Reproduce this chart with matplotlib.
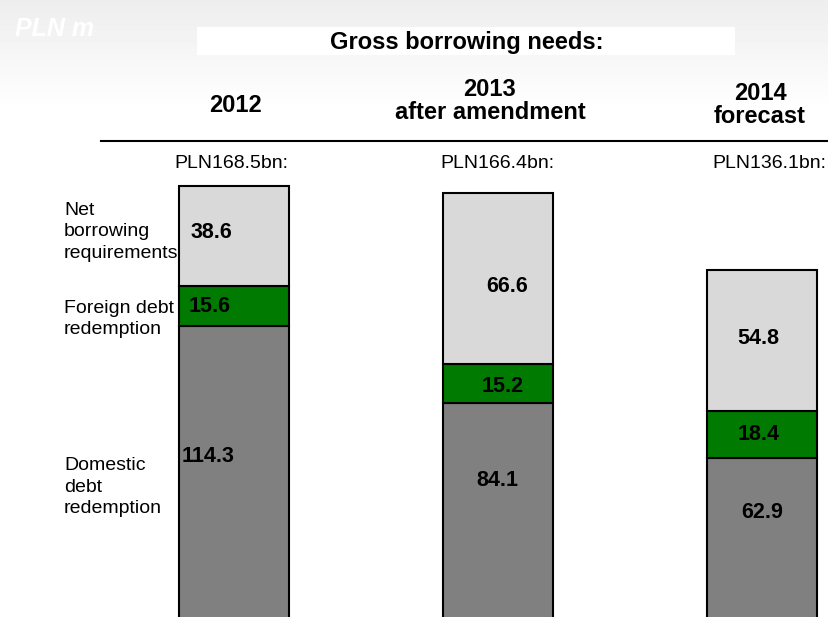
import numpy as np
import matplotlib.pyplot as plt
from matplotlib.patches import Rectangle

plt.rcParams['font.family'] = ['Liberation Sans', 'DejaVu Sans']

# data (PLN bn)
years = ['2012', '2013\nafter amendment', '2014\nforecast']
totals = ['PLN168.5bn:', 'PLN166.4bn:', 'PLN136.1bn:']
domestic = [114.3, 84.1, 62.9]
foreign = [15.6, 15.2, 18.4]
net = [38.6, 66.6, 54.8]
series_names = ['Domestic\ndebt\nredemption', 'Foreign debt\nredemption',
                'Net\nborrowing\nrequirements']

W, H = 829, 617
fig = plt.figure(figsize=(W / 100, H / 100), dpi=100)


# pixel -> figure fraction
def fx(px):
    return px / W


def fy(py):
    return 1 - py / H


# background gradient (slide header)
bg = fig.add_axes([0, 0, 1, 1], zorder=0)
rows = np.arange(H)
grad = np.repeat(np.clip(0.93 + 0.07 * rows / 110, 0, 1)[:, None], 2, axis=1)
bg.imshow(grad, cmap='gray', vmin=0, vmax=1, aspect='auto', extent=[0, 1, 0, 1])
bg.axis('off')

# main axes; zero at pixel 620, 2.575 px per unit
scale = 2.575
x_pix = [234, 497.5, 762]
step = 264
ax = fig.add_axes([0, -3 / H, 1, 620 / H], zorder=1)
ax.patch.set_alpha(0)
xs = np.arange(len(years))
ax.set_xlim(-x_pix[0] / step, (W - x_pix[0]) / step)
ax.set_ylim(0, 620 / scale)
ax.axis('off')

bw = 110 / step
bot2 = np.array(domestic) + np.array(foreign)
ax.bar(xs, domestic, bw, color='#808080', edgecolor='black', linewidth=1.5)
ax.bar(xs, foreign, bw, bottom=domestic, color='#007A00', edgecolor='black', linewidth=1.5)
ax.bar(xs, net, bw, bottom=bot2, color='#D9D9D9', edgecolor='black', linewidth=1.5)

# header box and title
fig.patches.append(Rectangle((fx(197), fy(55)), fx(735) - fx(197), (55 - 27) / H,
                             transform=fig.transFigure, facecolor='white',
                             edgecolor='none', zorder=2))
fig.text(fx(467), fy(43), 'Gross borrowing needs:', ha='center', va='center',
         fontsize=17, fontweight='bold', zorder=3)
fig.text(fx(15), fy(29), 'PLN m', ha='left', va='center', fontsize=18,
         fontweight='bold', fontstyle='italic', color='white', zorder=3)

# year headers
year_pos = [(236, 106), (490, 101), (760, 105)]
for lab, (px, py) in zip(years, year_pos):
    fig.text(fx(px), fy(py), lab, ha='center', va='center', fontsize=17,
             fontweight='bold', linespacing=1.0, zorder=3)

fig.add_artist(plt.Line2D([fx(101), 1], [fy(141), fy(141)], color='black',
                          linewidth=1.5, transform=fig.transFigure, zorder=3))

# totals above bars
tot_pos = [231, 497, 769]
for lab, px in zip(totals, tot_pos):
    fig.text(fx(px), fy(163), lab, ha='center', va='center', fontsize=14, zorder=3)

# series labels on the left
name_pos = [(64, 487), (64, 319), (64, 232)]
for lab, (px, py) in zip(series_names, name_pos):
    fig.text(fx(px), fy(py), lab, ha='left', va='center', fontsize=14,
             linespacing=1.35, zorder=3)

# value labels
vals = [net, foreign, domestic]
lab_pos = [
    [(191, 232, 'left'), (507, 287, 'center'), (758, 339, 'center')],
    [(189, 306, 'left'), (503, 387, 'center'), (759, 434, 'center')],
    [(182, 457, 'left'), (497, 480, 'center'), (762, 513, 'center')],
]
for series, poss in zip(vals, lab_pos):
    for v, (px, py, ha) in zip(series, poss):
        fig.text(fx(px), fy(py), f'{v:.1f}', ha=ha, va='center', fontsize=15.5,
                 fontweight='bold', zorder=3)

fig.savefig('out.png', dpi=100)
